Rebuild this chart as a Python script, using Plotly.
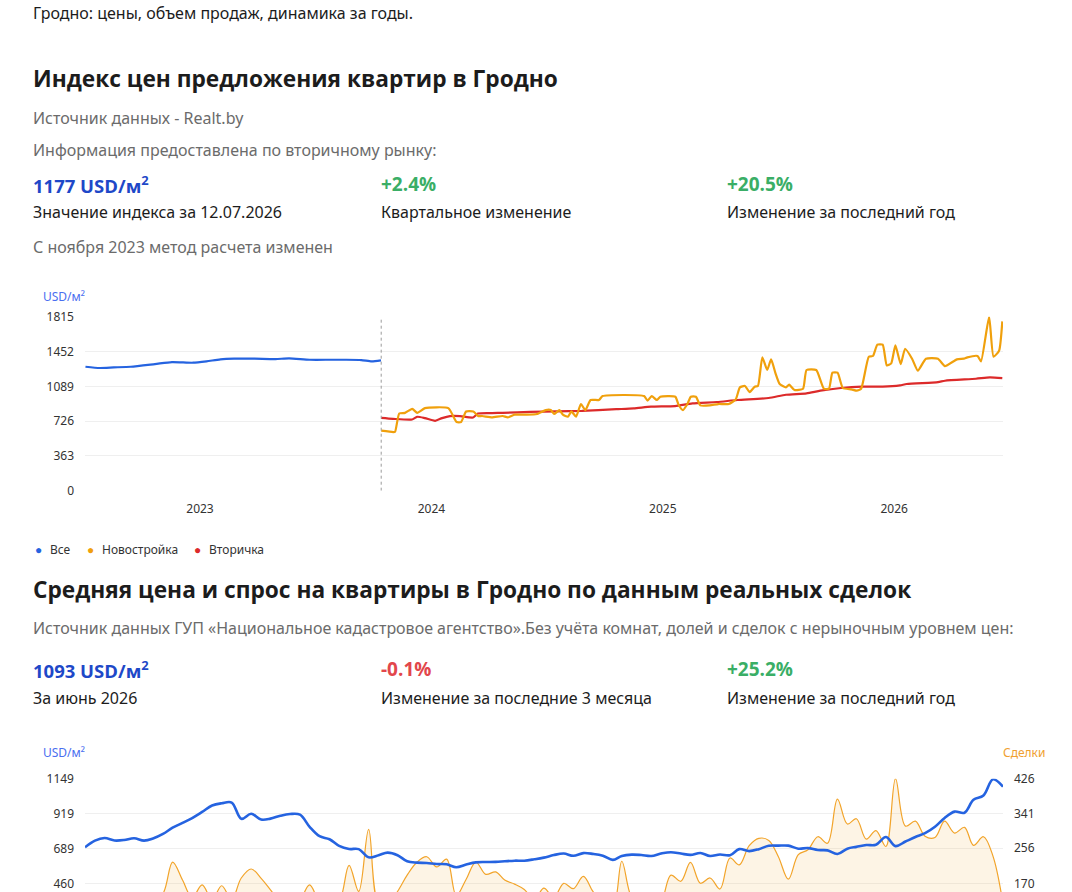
import plotly.graph_objects as go
import pandas as pd

W, H = 1072, 892

# ---------------- Chart 1: offer price index, USD/m² (time in fractional years)
ALL_T = [2022.505, 2022.567, 2022.627, 2022.701, 2022.805, 2022.879, 2022.969, 2023.028,
         2023.088, 2023.147, 2023.236, 2023.326, 2023.385, 2023.474, 2023.564, 2023.623,
         2023.697, 2023.742, 2023.782]
ALL_V = [1293, 1280, 1286, 1293, 1321, 1342, 1335, 1349, 1370, 1377, 1377, 1373, 1380, 1366,
         1366, 1366, 1363, 1349, 1360]

NEW_T = [2023.783, 2023.835, 2023.843, 2023.861, 2023.886, 2023.917, 2023.939, 2023.972,
         2024.073, 2024.109, 2024.128, 2024.150, 2024.181, 2024.203, 2024.219, 2024.262,
         2024.308, 2024.330, 2024.360, 2024.412, 2024.456, 2024.494, 2024.516, 2024.530,
         2024.553, 2024.568, 2024.590, 2024.605, 2024.625, 2024.646, 2024.665, 2024.688,
         2024.724, 2024.740, 2024.919, 2024.934, 2024.952, 2024.974, 2024.989, 2025.054,
         2025.068, 2025.087, 2025.106, 2025.121, 2025.143, 2025.162, 2025.203, 2025.240,
         2025.285, 2025.315, 2025.333, 2025.355, 2025.375, 2025.397, 2025.411, 2025.430,
         2025.451, 2025.468, 2025.487, 2025.505, 2025.532, 2025.546, 2025.569, 2025.606,
         2025.621, 2025.663, 2025.696, 2025.718, 2025.733, 2025.755, 2025.778, 2025.815,
         2025.838, 2025.857, 2025.890, 2025.908, 2025.927, 2025.950, 2025.968, 2025.987,
         2026.005, 2026.028, 2026.047, 2026.077, 2026.102, 2026.137, 2026.189, 2026.219,
         2026.271, 2026.301, 2026.316, 2026.360, 2026.375, 2026.410, 2026.429, 2026.453,
         2026.467]
NEW_V = [626, 612, 615, 805, 812, 854, 812, 861, 861, 716, 716, 826, 826, 778, 779, 765,
         779, 765, 793, 793, 800, 841, 841, 800, 841, 793, 772, 827, 772, 904, 841, 946,
         946, 987, 987, 939, 987, 946, 980, 980, 897, 841, 904, 980, 980, 890, 890, 904,
         904, 953, 1078, 1092, 1029, 1085, 1092, 1391, 1259, 1370, 1224, 1113, 1078, 1106,
         1050, 1064, 1259, 1259, 1064, 1064, 1231, 1231, 1071, 1057, 1043, 1064, 1398, 1405,
         1523, 1523, 1307, 1328, 1516, 1321, 1481, 1377, 1252, 1377, 1377, 1300, 1370, 1377,
         1391, 1405, 1349, 1815, 1398, 1460, 1766]

SEC_T = [2023.783, 2023.834, 2023.916, 2023.938, 2023.972, 2024.016, 2024.046, 2024.080,
         2024.124, 2024.180, 2024.201, 2024.262, 2024.308, 2024.426, 2024.650, 2024.799,
         2024.874, 2024.949, 2025.053, 2025.128, 2025.233, 2025.322, 2025.457, 2025.532,
         2025.621, 2025.681, 2025.770, 2025.860, 2025.950, 2026.025, 2026.054, 2026.189,
         2026.219, 2026.353, 2026.413, 2026.467]
SEC_V = [760, 750, 743, 771, 757, 729, 757, 778, 778, 764, 805, 810, 812, 822, 833, 850,
         858, 876, 883, 911, 925, 946, 967, 1001, 1015, 1043, 1071, 1085, 1085, 1099, 1113,
         1133, 1147, 1168, 1182, 1175]

METHOD_CHANGE = 2023.783
IDX_TICKS = [0, 363, 726, 1089, 1452, 1815]
YEAR_TICKS = [2023, 2024, 2025, 2026]
YEAR_LABELS = ["2023", "2024", "2025", "2026"]

# ---------------- Chart 2: real deals, monthly
MONTHS = pd.date_range("2018-08-01", "2026-06-01", freq="MS")
PRICE = [697, 741, 758, 742, 745, 757, 741, 755, 785, 826, 858, 890, 930, 972, 987, 992,
         885, 918, 880, 886, 905, 916, 912, 832, 770, 750, 706, 686, 685, 631, 645, 662,
         645, 605, 596, 594, 587, 585, 566, 584, 598, 600, 601, 605, 609, 609, 618, 629,
         646, 656, 641, 659, 654, 642, 614, 640, 649, 646, 640, 656, 665, 656, 647, 660,
         640, 650, 645, 685, 672, 685, 707, 708, 708, 688, 692, 679, 677, 653, 688, 700,
         712, 714, 765, 705, 735, 765, 790, 832, 890, 932, 925, 1010, 1038, 1145, 1096]
DEALS = [110, 120, 105, 115, 125, 110, 120, 130, 145, 222, 178, 135, 166, 130, 164, 130,
         183, 205, 182, 154, 125, 120, 130, 166, 125, 115, 125, 214, 150, 302, 120, 120,
         150, 190, 222, 235, 210, 229, 140, 180, 222, 192, 198, 178, 168, 155, 130, 158,
         135, 170, 157, 187, 150, 120, 110, 224, 135, 120, 115, 125, 190, 175, 221, 170,
         183, 156, 232, 215, 262, 280, 275, 235, 180, 240, 252, 284, 268, 376, 315, 328,
         278, 299, 260, 426, 310, 322, 285, 282, 322, 293, 307, 263, 284, 236, 120]
PRICE_TICKS = [460, 689, 919, 1149]
DEAL_TICKS = [170, 256, 341, 426]

BLUE = "#2563e0"
ORANGE = "#f0a00c"
RED = "#dc2a2a"
DEAL_C = "#f2a42a"


def px(x):
    return x / W


def py(y):
    return 1 - y / H


fig = go.Figure()

fig.add_trace(go.Scatter(x=ALL_T, y=ALL_V, mode="lines", name="Все",
                         line=dict(color=BLUE, width=2.2, shape="spline", smoothing=0.6),
                         xaxis="x", yaxis="y", showlegend=False))
fig.add_trace(go.Scatter(x=SEC_T, y=SEC_V, mode="lines", name="Вторичка",
                         line=dict(color=RED, width=2.2, shape="spline", smoothing=0.6),
                         xaxis="x", yaxis="y", showlegend=False))
fig.add_trace(go.Scatter(x=NEW_T, y=NEW_V, mode="lines", name="Новостройка",
                         line=dict(color=ORANGE, width=2.2, shape="spline", smoothing=0.5),
                         xaxis="x", yaxis="y", showlegend=False))

fig.add_trace(go.Scatter(x=MONTHS, y=DEALS, mode="lines", name="Сделки",
                         line=dict(color=DEAL_C, width=1.2, shape="spline", smoothing=1.0),
                         fill="tozeroy", fillcolor="rgba(242,164,42,0.12)",
                         xaxis="x2", yaxis="y2", showlegend=False))
fig.add_trace(go.Scatter(x=MONTHS, y=PRICE, mode="lines", name="USD/м²",
                         line=dict(color=BLUE, width=2.6, shape="spline", smoothing=1.0),
                         xaxis="x2", yaxis="y3", showlegend=False))

XDOM = [px(85), px(1003)]
tickfont = dict(family="Noto Sans", size=12, color="#333333")
GRID = "#efefef"

fig.update_layout(
    width=W, height=H, autosize=False,
    margin=dict(l=0, r=0, t=0, b=0, pad=0, autoexpand=False),
    paper_bgcolor="white", plot_bgcolor="white",
    font=dict(family="Noto Sans", color="#222222"),
    xaxis=dict(domain=XDOM, anchor="y", range=[2022.503, 2026.470],
               tickvals=YEAR_TICKS, ticktext=YEAR_LABELS, showgrid=False,
               zeroline=False, showline=False, ticks="", tickfont=tickfont,
               ticklabelstandoff=9, automargin=False),
    yaxis=dict(domain=[py(490.7), py(316.7)], anchor="x", range=[0, 1815],
               tickvals=IDX_TICKS, gridcolor=GRID, gridwidth=1, zeroline=False,
               showline=False, ticks="", tickfont=tickfont, ticklabelstandoff=10,
               automargin=False),
    xaxis2=dict(domain=XDOM, anchor="y2", range=[MONTHS[0], MONTHS[-1]],
                showticklabels=False, showgrid=False, zeroline=False, showline=False,
                ticks="", automargin=False),
    yaxis2=dict(domain=[0, py(778.7)], anchor="x2", side="right",
                range=[148.7, 426], tickvals=DEAL_TICKS, gridcolor=GRID, gridwidth=1,
                zeroline=False, showline=False, ticks="", tickfont=tickfont,
                ticklabelstandoff=10, automargin=False),
    yaxis3=dict(overlaying="y2", anchor="x2", side="left", range=[402.7, 1149],
                tickvals=PRICE_TICKS, showgrid=False, zeroline=False, showline=False,
                ticks="", tickfont=tickfont, ticklabelstandoff=10, automargin=False),
)

fig.add_shape(type="line", xref="x", yref="y", x0=METHOD_CHANGE, x1=METHOD_CHANGE,
              y0=0, y1=1815, line=dict(color="#9a9a9a", width=1, dash="3px,3px"))

HEAD = "Open Sans"
BODY = "Noto Sans"
DARK = "#1c1c1c"
GRAY = "#6b6b6b"
VBLUE = "#1e48c8"
GREEN = "#3aae66"
REDT = "#e2464b"


def txt(x, y, s, size=16, color=DARK, family=BODY, anchor="left"):
    xx = x - 2 if anchor == "left" else x + 2
    fig.add_annotation(x=px(xx), y=py(y), xref="paper", yref="paper", text=s,
                       showarrow=False, xanchor=anchor, yanchor="middle",
                       font=dict(family=family, size=size, color=color))


txt(33, 13, "Гродно: цены, объем продаж, динамика за годы.")
txt(33, 79, "<b>Индекс цен предложения квартир в Гродно</b>", size=22.7, family=HEAD)
txt(33, 118, "Источник данных - Realt.by", color=GRAY)
txt(33, 150, "Информация предоставлена по вторичному рынку:", color=GRAY)
txt(33, 184, "<b>1177 USD/м<sup>2</sup></b>", size=18.5, color=VBLUE, family=HEAD)
txt(33, 212, "Значение индекса за 12.07.2026")
txt(381, 184, "<b>+2.4%</b>", size=19, color=GREEN, family=HEAD)
txt(381, 212, "Квартальное изменение")
txt(727, 184, "<b>+20.5%</b>", size=19, color=GREEN, family=HEAD)
txt(727, 212, "Изменение за последний год")
txt(33, 247, "С ноября 2023 метод расчета изменен", color=GRAY)
txt(43, 296, "USD/м²", size=12, color="#4a6ef0")

for dx, tx, col, lab in [(35, 50, BLUE, "Все"), (87, 102, ORANGE, "Новостройка"),
                         (194, 209, RED, "Вторичка")]:
    txt(dx, 549, "●", size=12, color=col)
    txt(tx, 549, lab, size=12, color="#333333")

txt(33, 589, "<b>Средняя цена и спрос на квартиры в Гродно по данным реальных сделок</b>",
    size=22.7, family=HEAD)
txt(33, 628, "Источник данных ГУП «Национальное кадастровое агентство».Без учёта комнат, "
    "долей и сделок с нерыночным уровнем цен:", color=GRAY)
txt(33, 669, "<b>1093 USD/м<sup>2</sup></b>", size=18.5, color=VBLUE, family=HEAD)
txt(33, 698, "За июнь 2026")
txt(381, 669, "<b>-0.1%</b>", size=19, color=REDT, family=HEAD)
txt(381, 698, "Изменение за последние 3 месяца")
txt(727, 669, "<b>+25.2%</b>", size=19, color=GREEN, family=HEAD)
txt(727, 698, "Изменение за последний год")
txt(43, 752, "USD/м²", size=12, color="#4a6ef0")
txt(1045, 752, "Сделки", size=12, color="#f0a030", anchor="right")

fig.write_html("out.html", config={"displayModeBar": False},
               post_script="document.body.style.margin='0px';"
                           "document.body.style.overflow='hidden';")
